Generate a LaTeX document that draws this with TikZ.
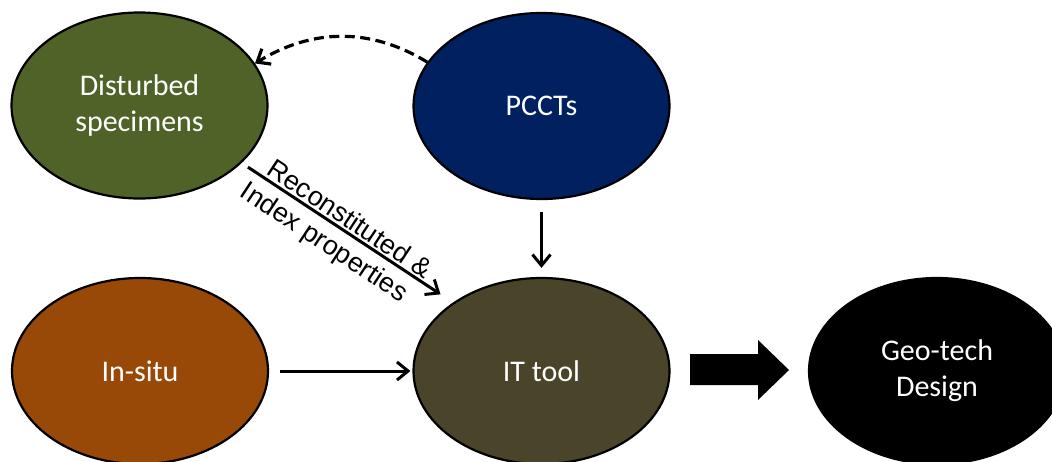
\documentclass[tikz,border=0pt]{standalone}
\usepackage{fontspec}
\setmainfont{Carlito}
\newfontfamily\arialf{Liberation Sans}
\usetikzlibrary{arrows.meta,shapes.geometric,calc}
\definecolor{cdist}{HTML}{4F6228}
\definecolor{cpcct}{HTML}{002060}
\definecolor{cinsitu}{HTML}{984807}
\definecolor{cit}{HTML}{4A452A}
\begin{document}
\begin{tikzpicture}[x=1pt,y=-1pt,
  blob/.style={ellipse,draw=black,line width=2.2pt,minimum width=256pt,minimum height=186pt,
    inner sep=0pt,text=white,align=center,font=\fontsize{30}{36}\selectfont},
  conn/.style={line width=3pt,-{Straight Barb[length=11pt,width=18pt]}},
  dashconn/.style={line width=3.2pt,dash pattern=on 10pt off 5.5pt,-{Straight Barb[length=11pt,width=18pt]}},
  lbl/.style={inner sep=0pt,font=\arialf\fontsize{27}{31}\selectfont}
]
\useasboundingbox (0,0) rectangle (1052,461);
\node[blob,fill=cdist] (dist) at (139.5,105.5) {Disturbed\\specimens};
\node[blob,fill=cpcct] (pccts) at (541.5,106) {PCCTs};
\node[blob,fill=cinsitu] (insitu) at (140,371) {In-situ};
\node[blob,fill=cit] (it) at (541.5,371) {IT tool};
\node[blob,fill=black] (geo) at (937,371) {Geo-tech\\Design};

\draw[dashconn] (pccts.159) .. controls ($(pccts.159)+(-57,-35)$) and ($(dist.20)+(57,-35)$) .. (dist.20);
\draw[conn,shorten <=12pt,shorten >=9pt] (pccts) -- (it);
\draw[conn,shorten <=11pt,shorten >=2pt] (insitu) -- (it);
\draw[conn,shorten <=130pt,shorten >=121pt] ([yshift=10pt]dist.center) -- ([yshift=10pt]it.center)
  node[lbl,pos=0.505,sloped,above=2pt] {Reconstituted \&}
  node[lbl,pos=0.488,sloped,below=8pt] {Index properties};
\fill[black] (690,354) -- (758,354) -- (758,340) -- (789,370) -- (758,400) -- (758,385) -- (690,385) -- cycle;
\end{tikzpicture}
\end{document}
